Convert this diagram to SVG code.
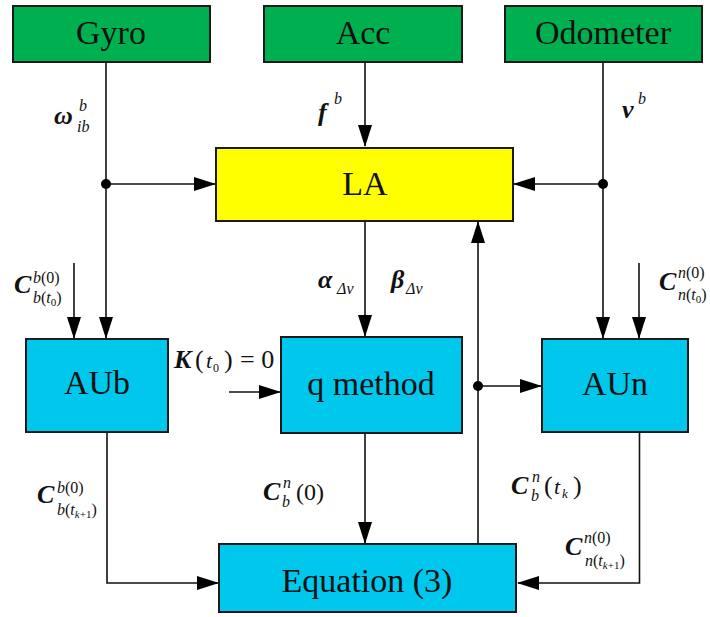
<svg xmlns="http://www.w3.org/2000/svg" width="710" height="617" viewBox="0 0 710 617">
<defs>
<marker id="ah" markerUnits="userSpaceOnUse" markerWidth="22" markerHeight="14" refX="21" refY="7" orient="auto">
<path d="M0,0 L22,7 L0,14 Z" fill="#000"/>
</marker>
</defs>

<g id="connectors" fill="none" stroke="#111" stroke-width="1.6">
<path d="M106,62 V338" marker-end="url(#ah)"/>
<path d="M106,184 H215" marker-end="url(#ah)"/>
<path d="M74,263 V338" marker-end="url(#ah)"/>
<path d="M365,62 V146" marker-end="url(#ah)"/>
<path d="M603,62 V338" marker-end="url(#ah)"/>
<path d="M603,184 H514" marker-end="url(#ah)"/>
<path d="M639,263 V338" marker-end="url(#ah)"/>
<path d="M365,221 V336" marker-end="url(#ah)"/>
<path d="M229,392 H280" marker-end="url(#ah)"/>
<path d="M107,432 V583 H218" marker-end="url(#ah)"/>
<path d="M365,433 V543" marker-end="url(#ah)"/>
<path d="M478,544 V222" marker-end="url(#ah)"/>
<path d="M478,386 H541" marker-end="url(#ah)"/>
<path d="M639.5,432 V583 H518" marker-end="url(#ah)"/>
<circle cx="106" cy="184" r="5" fill="#000" stroke="none"/>
<circle cx="603" cy="184" r="5" fill="#000" stroke="none"/>
<circle cx="478" cy="386" r="5" fill="#000" stroke="none"/>
</g>

<g id="gyro"><rect x="13" y="6" width="197" height="56" fill="#00B050" stroke="#1a1a1a" stroke-width="2"/><text font-family="Liberation Serif" font-size="34" text-anchor="middle" fill="#111" x="111" y="44">Gyro</text></g>
<g id="acc"><rect x="264" y="6" width="198" height="56" fill="#00B050" stroke="#1a1a1a" stroke-width="2"/><text font-family="Liberation Serif" font-size="34" text-anchor="middle" fill="#111" x="363" y="44">Acc</text></g>
<g id="odometer"><rect x="505" y="6" width="197" height="56" fill="#00B050" stroke="#1a1a1a" stroke-width="2"/><text font-family="Liberation Serif" font-size="34" text-anchor="middle" fill="#111" x="603" y="44">Odometer</text></g>
<g id="la"><rect x="216" y="148" width="297" height="73" fill="#FFFF00" stroke="#1a1a1a" stroke-width="2"/><text font-family="Liberation Serif" font-size="34" text-anchor="middle" fill="#111" x="365" y="195">LA</text></g>
<g id="aub"><rect x="26" y="339" width="142" height="93" fill="#00C8EC" stroke="#1a1a1a" stroke-width="2"/><text font-family="Liberation Serif" font-size="34" text-anchor="middle" fill="#111" x="97" y="394">AUb</text></g>
<g id="qmethod"><rect x="281" y="337" width="181" height="96" fill="#00C8EC" stroke="#1a1a1a" stroke-width="2"/><text font-family="Liberation Serif" font-size="34" text-anchor="middle" fill="#111" x="371" y="395">q method</text></g>
<g id="aun"><rect x="542" y="339" width="146" height="93" fill="#00C8EC" stroke="#1a1a1a" stroke-width="2"/><text font-family="Liberation Serif" font-size="34" text-anchor="middle" fill="#111" x="615" y="395">AUn</text></g>
<g id="equation"><rect x="219" y="544" width="297" height="68" fill="#00C8EC" stroke="#1a1a1a" stroke-width="2"/><text font-family="Liberation Serif" font-size="34" text-anchor="middle" fill="#111" x="367" y="592">Equation (3)</text></g>

<g id="labels" fill="#111">
<text font-family="Liberation Serif" font-weight="bold" font-style="italic" font-size="26" x="54" y="124">ω</text>
<text font-family="Liberation Serif" font-style="italic" font-size="16" x="79" y="111">b</text>
<text font-family="Liberation Serif" font-style="italic" font-size="16" x="77" y="132">ib</text>
<text font-family="Liberation Serif" font-weight="bold" font-style="italic" font-size="26" x="318" y="121">f</text>
<text font-family="Liberation Serif" font-style="italic" font-size="16" x="334" y="104">b</text>
<text font-family="Liberation Serif" font-weight="bold" font-style="italic" font-size="26" x="622" y="118">v</text>
<text font-family="Liberation Serif" font-style="italic" font-size="16" x="638" y="104">b</text>
<text font-family="Liberation Serif" font-weight="bold" font-style="italic" font-size="26" x="318" y="288">α</text>
<text font-family="Liberation Serif" font-style="italic" font-size="16" x="337" y="294">Δv</text>
<text font-family="Liberation Serif" font-weight="bold" font-style="italic" font-size="26" x="391" y="288">β</text>
<text font-family="Liberation Serif" font-style="italic" font-size="16" x="406" y="294">Δv</text>
<text font-family="Liberation Serif" font-weight="bold" font-style="italic" font-size="26" x="14" y="293">C</text>
<text font-family="Liberation Serif" font-style="italic" font-size="16" x="33" y="283">b<tspan font-style="normal">(0)</tspan></text>
<text font-family="Liberation Serif" font-style="italic" font-size="16" x="33" y="303">b<tspan font-style="normal">(</tspan>t<tspan font-size="11" font-style="normal" dy="3">0</tspan><tspan font-style="normal" dy="-3">)</tspan></text>
<text font-family="Liberation Serif" font-weight="bold" font-style="italic" font-size="26" x="659" y="290">C</text>
<text font-family="Liberation Serif" font-style="italic" font-size="16" x="678" y="278">n<tspan font-style="normal">(0)</tspan></text>
<text font-family="Liberation Serif" font-style="italic" font-size="16" x="678" y="300">n<tspan font-style="normal">(</tspan>t<tspan font-size="11" font-style="normal" dy="3">0</tspan><tspan font-style="normal" dy="-3">)</tspan></text>
<text font-family="Liberation Serif" font-weight="bold" font-style="italic" font-size="26" x="174" y="368">K</text>
<text font-family="Liberation Serif" font-size="26" x="195" y="368">(</text>
<text font-family="Liberation Serif" font-size="22" font-style="italic" x="206" y="368">t</text>
<text font-family="Liberation Serif" font-size="12" x="213" y="372">0</text>
<text font-family="Liberation Serif" font-size="26" x="224" y="368">)</text>
<text font-family="Liberation Serif" font-size="26" x="240" y="368">= 0</text>
<text font-family="Liberation Serif" font-weight="bold" font-style="italic" font-size="26" x="37" y="503">C</text>
<text font-family="Liberation Serif" font-style="italic" font-size="16" x="57" y="493">b<tspan font-style="normal">(0)</tspan></text>
<text font-family="Liberation Serif" font-style="italic" font-size="16" x="57" y="515">b<tspan font-style="normal">(</tspan>t<tspan font-size="11" dy="3">k</tspan><tspan font-size="11" font-style="normal">+1</tspan><tspan font-style="normal" dy="-3">)</tspan></text>
<text font-family="Liberation Serif" font-weight="bold" font-style="italic" font-size="26" x="263" y="500">C</text>
<text font-family="Liberation Serif" font-style="italic" font-size="16" x="283" y="488">n</text>
<text font-family="Liberation Serif" font-style="italic" font-size="16" x="282" y="507">b</text>
<text font-family="Liberation Serif" font-size="24" x="296" y="500">(0)</text>
<text font-family="Liberation Serif" font-weight="bold" font-style="italic" font-size="26" x="511" y="494">C</text>
<text font-family="Liberation Serif" font-style="italic" font-size="16" x="532" y="482">n</text>
<text font-family="Liberation Serif" font-style="italic" font-size="16" x="531" y="501">b</text>
<text font-family="Liberation Serif" font-size="26" x="544" y="494">(</text>
<text font-family="Liberation Serif" font-size="22" font-style="italic" x="554" y="494">t</text>
<text font-family="Liberation Serif" font-size="13" font-style="italic" x="562" y="498">k</text>
<text font-family="Liberation Serif" font-size="26" x="573" y="494">)</text>
<text font-family="Liberation Serif" font-weight="bold" font-style="italic" font-size="26" x="565" y="555">C</text>
<text font-family="Liberation Serif" font-style="italic" font-size="16" x="584" y="543">n<tspan font-style="normal">(0)</tspan></text>
<text font-family="Liberation Serif" font-style="italic" font-size="16" x="585" y="566">n<tspan font-style="normal">(</tspan>t<tspan font-size="11" dy="3">k</tspan><tspan font-size="11" font-style="normal">+1</tspan><tspan font-style="normal" dy="-3">)</tspan></text>
</g>
</svg>
